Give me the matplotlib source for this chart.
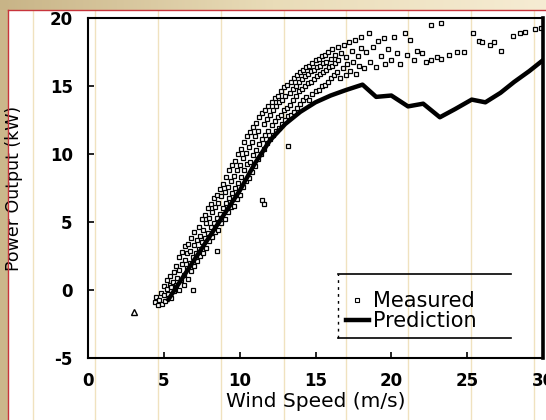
import numpy as np
import matplotlib
matplotlib.use("Agg")
import matplotlib.pyplot as plt
from matplotlib.lines import Line2D
from matplotlib.colors import LinearSegmentedColormap

# ── Data ──────────────────────────────────────────────────────────────────

# measured (wind speed m/s, power kW)
meas_speed = [
    4.4, 4.5, 4.6, 4.7, 4.8, 4.9, 5.0, 5.0, 5.1, 5.2, 5.2, 5.3, 5.4, 5.4, 5.5, 5.5,
    5.6, 5.7, 5.7, 5.8, 5.8, 5.9, 6.0, 6.0, 6.0, 6.1, 6.2, 6.2, 6.3, 6.3, 6.4, 6.4, 6.5, 6.5,
    6.6, 6.6, 6.7, 6.7, 6.8, 6.8, 6.9, 6.9, 7.0, 7.0, 7.0, 7.1, 7.2, 7.2, 7.3, 7.3, 7.4, 7.4, 7.5, 7.5,
    7.6, 7.6, 7.7, 7.7, 7.8, 7.8, 7.9, 7.9, 8.0, 8.0, 8.1, 8.1, 8.2, 8.2, 8.3, 8.3, 8.4, 8.4, 8.5, 8.5, 8.5,
    8.6, 8.6, 8.7, 8.7, 8.8, 8.8, 8.9, 8.9, 9.0, 9.0, 9.1, 9.1, 9.2, 9.2, 9.3, 9.3, 9.4, 9.4, 9.5, 9.5,
    9.6, 9.6, 9.7, 9.7, 9.8, 9.8, 9.9, 9.9, 10.0, 10.0, 10.1, 10.1, 10.2, 10.2, 10.3, 10.3, 10.4, 10.4, 10.5, 10.5,
    10.6, 10.6, 10.7, 10.7, 10.8, 10.8, 10.9, 10.9, 11.0, 11.0, 11.1, 11.1, 11.2, 11.2, 11.3, 11.3, 11.4, 11.5, 11.5, 11.5, 11.6,
    11.6, 11.6, 11.7, 11.7, 11.8, 11.8, 11.9, 11.9, 12.0, 12.0, 12.1, 12.1, 12.2, 12.2, 12.3, 12.3, 12.4, 12.4, 12.5, 12.5,
    12.6, 12.6, 12.7, 12.7, 12.8, 12.8, 12.9, 12.9, 13.0, 13.0, 13.1, 13.1, 13.2, 13.2, 13.3, 13.3, 13.4, 13.4, 13.5, 13.5,
    13.6, 13.6, 13.7, 13.7, 13.8, 13.8, 13.9, 13.9, 14.0, 14.0, 14.1, 14.1, 14.2, 14.2, 14.3, 14.3, 14.4, 14.4, 14.5, 14.5,
    14.6, 14.6, 14.7, 14.7, 14.8, 14.8, 14.9, 14.9, 15.0, 15.0, 15.1, 15.1, 15.2, 15.2, 15.3, 15.3, 15.4, 15.4, 15.5, 15.5,
    15.6, 15.6, 15.7, 15.7, 15.8, 15.8, 15.9, 16.0, 16.0, 16.1, 16.1, 16.2, 16.3, 16.3, 16.4, 16.5, 16.5,
    16.6, 16.7, 16.8, 16.9, 17.0, 17.0, 17.1, 17.2, 17.3, 17.4, 17.5, 17.6, 17.7, 17.8, 17.9, 18.0, 18.0,
    18.2, 18.3, 18.5, 18.6, 18.8, 19.0, 19.1, 19.3, 19.5, 19.6, 19.8, 20.0, 20.2, 20.4, 20.6, 20.9,
    21.0, 21.2, 21.5, 21.7, 22.0, 22.3, 22.6, 22.6,
    23.0, 23.3, 23.3, 23.8, 24.3, 24.8, 25.4, 25.8, 26.0, 26.5, 26.8, 27.2, 28.0, 28.5, 28.8, 29.5, 29.9,
]
meas_power = [
    -0.9, -0.5, -1.1, -0.7, -0.2, -1.0, -0.4, 0.3, -0.8, 0.1, 0.7, -0.3, 0.4, 1.0, -0.6, 0.2,
    0.6, -0.1, 1.3, 0.4, 1.8, 0.9, 0.0, 1.5, 2.4, 0.7, 1.9, 2.8, 1.1, 0.4, 2.2, 3.2, 1.6, 2.7,
    0.8, 3.4, 2.0, 2.9, 1.4, 3.8, 2.4, 0.0, 3.3, 1.8, 4.3, 2.7, 3.7, 2.1, 4.6, 3.0, 2.5, 4.0, 5.2, 3.5,
    2.7, 4.4, 3.8, 5.5, 3.1, 4.9, 4.2, 6.0, 3.6, 5.3, 4.6, 6.3, 3.9, 5.7, 4.9, 6.8, 4.3, 6.1, 5.3, 2.9, 7.0,
    4.4, 6.4, 5.6, 7.4, 4.9, 6.9, 6.0, 7.8, 5.2, 7.2, 6.4, 8.3, 5.7, 7.6, 6.8, 8.8, 6.1, 8.0, 7.1, 9.2,
    6.2, 8.4, 7.5, 9.5, 6.7, 8.8, 7.9, 10.0, 7.0, 9.2, 8.3, 10.4, 7.6, 9.7, 8.8, 10.9, 8.0, 10.1, 9.3, 11.3,
    8.2, 10.5, 9.4, 11.6, 8.7, 10.9, 9.9, 12.0, 9.1, 11.3, 10.3, 12.3, 9.6, 11.7, 10.7, 12.7, 10.0, 11.1, 13.0, 6.6, 6.3,
    10.4, 12.2, 11.4, 13.2, 10.8, 12.6, 11.7, 13.5, 11.1, 12.9, 12.1, 13.8, 11.4, 13.2, 12.4, 14.1, 11.7, 13.5, 12.7, 14.3,
    11.9, 13.8, 12.9, 14.6, 12.2, 14.0, 13.2, 14.9, 12.5, 14.3, 13.4, 15.1, 10.6, 12.8, 14.5, 13.6, 12.9, 15.3, 14.0, 14.8,
    13.1, 15.6, 14.3, 15.0, 13.4, 15.8, 14.6, 15.3, 13.7, 16.0, 14.8, 15.5, 14.0, 16.2, 15.0, 15.7, 14.2, 16.4, 15.2, 15.9,
    14.0, 16.5, 15.3, 16.1, 14.4, 16.7, 15.5, 16.2, 14.6, 16.9, 15.7, 16.4, 14.7, 17.0, 15.9, 16.5, 15.0, 17.2, 16.0, 16.7,
    15.1, 17.3, 16.2, 16.8, 15.3, 17.5, 16.4, 15.6, 17.0, 16.5, 17.7, 15.8, 16.7, 17.3, 16.0, 17.9, 16.9,
    15.6, 17.4, 16.3, 18.0, 15.8, 17.1, 16.6, 18.2, 16.1, 17.6, 16.8, 18.4, 15.9, 17.2, 16.5, 18.6, 17.8,
    16.3, 17.5, 18.9, 16.8, 17.9, 16.4, 18.3, 17.2, 18.5, 16.6, 17.7, 16.9, 18.6, 17.4, 16.6, 18.9,
    17.3, 18.4, 16.9, 17.6, 17.4, 16.8, 16.9, 19.5,
    17.1, 17.0, 19.6, 17.3, 17.5, 17.5, 18.9, 18.3, 18.2, 18.0, 18.2, 17.6, 18.7, 18.9, 19.0, 19.2, 19.3,
]

# predicted curve
pred_speed = [5.3, 6.0, 7.0, 8.0, 9.0, 10.0, 11.0, 12.0, 13.0, 14.0, 15.0, 16.0, 17.0,
              18.1, 19.0, 20.0, 21.1, 22.1, 23.2, 24.2, 25.3, 26.2, 27.2, 28.1, 29.1, 30.0]
pred_power = [-0.7, 0.5, 2.2, 3.9, 5.6, 7.3, 9.3, 11.0, 12.2, 13.1, 13.8, 14.3, 14.7,
              15.1, 14.2, 14.3, 13.5, 13.7, 12.7, 13.3, 14.0, 13.8, 14.5, 15.3, 16.1, 16.9]

# lone low-wind reading
stray_speed = [3.0]
stray_power = [-1.6]

x_ticks = [0, 5, 10, 15, 20, 25, 30]
y_ticks = [-5, 0, 5, 10, 15, 20]

# ── Figure ─────────────────────────────────────────────────────────────────

W, H = 546, 420
fig = plt.figure(figsize=(W / 100, H / 100), dpi=100, facecolor="white")

# slide frame: tan gradient strips top + left, thin red rule
tan = LinearSegmentedColormap.from_list("tan", ["#c8b487", "#e9dcb8", "#f6ecd3"])
top = fig.add_axes([0, (H - 10) / H, 1, 10 / H])
top.imshow(np.linspace(0, 1, 256)[None, :], aspect="auto", cmap=tan)
top.axis("off")
left = fig.add_axes([0, 0, 8 / W, (H - 10) / H])
left.imshow(np.full((2, 2), 0.05), aspect="auto", cmap=tan, vmin=0, vmax=1)
left.axis("off")
fig.add_artist(Line2D([8 / W, 8 / W], [0, (H - 10) / H], color="#c8343c", lw=1.0))
fig.add_artist(Line2D([8 / W, 1], [(H - 10) / H, (H - 10) / H], color="#c8343c", lw=1.0))

# faint vertical guide lines of the slide
for px in [33, 95, 158, 221, 284, 346, 408, 471, 534]:
    fig.add_artist(Line2D([px / W, px / W], [0, (H - 11) / H],
                          color="#f0e2bf", lw=1.0, zorder=0.5))

ax = fig.add_axes([88 / W, (H - 358) / H, 455 / W, 340 / H])
ax.set_facecolor("none")
ax.set_zorder(1)

ax.plot(meas_speed, meas_power, linestyle="none", marker="s", ms=3.4,
        mfc="white", mec="black", mew=0.9, zorder=2)
ax.plot(stray_speed, stray_power, linestyle="none", marker="^", ms=4.5,
        mfc="white", mec="black", mew=1.0, zorder=2)
ax.plot(pred_speed, pred_power, color="black", lw=3.2,
        solid_joinstyle="round", zorder=3)

ax.set_xlim(0, 30)
ax.set_ylim(-5, 20)
ax.set_xticks(x_ticks)
ax.set_yticks(y_ticks)
ax.set_xticklabels([str(t) for t in x_ticks])
ax.set_yticklabels([str(t) for t in y_ticks])
ax.tick_params(direction="in", length=4, width=1.2, labelsize=12)
ax.tick_params(axis="x", pad=10)
ax.tick_params(axis="y", pad=11)
for lab in ax.get_xticklabels() + ax.get_yticklabels():
    lab.set_fontweight("bold")

for side in ["left", "bottom", "top"]:
    ax.spines[side].set_linewidth(1.5)
ax.spines["right"].set_linewidth(2.6)

ax.set_xlabel("Wind Speed (m/s)", fontsize=14.5)
ax.xaxis.set_label_coords(0.5, -0.1)
ax.set_ylabel("Power Output (kW)", fontsize=12.5)
ax.yaxis.set_label_coords(-0.142, 0.5)

# legend with the open-sided frame of the scan
handles = [
    Line2D([], [], linestyle="none", marker="s", ms=3, mfc="white",
           mec="black", mew=0.8, label="Measured"),
    Line2D([], [], color="black", lw=3.2, label="Prediction"),
]
ax.legend(handles=handles, loc="upper left", bbox_to_anchor=(0.548, 0.222),
          frameon=False, fontsize=15, handlelength=1.1, handletextpad=0.2,
          labelspacing=0.0, borderaxespad=0)
ax.plot([0.55, 0.93], [0.247, 0.247], color="black", lw=1.2, transform=ax.transAxes)
ax.plot([0.55, 0.93], [0.06, 0.06], color="black", lw=1.2, transform=ax.transAxes)
ax.plot([0.55, 0.55], [0.06, 0.247], color="black", lw=1.0, ls=(0, (2, 3)),
        transform=ax.transAxes)

fig.savefig("out.png", dpi=100)
